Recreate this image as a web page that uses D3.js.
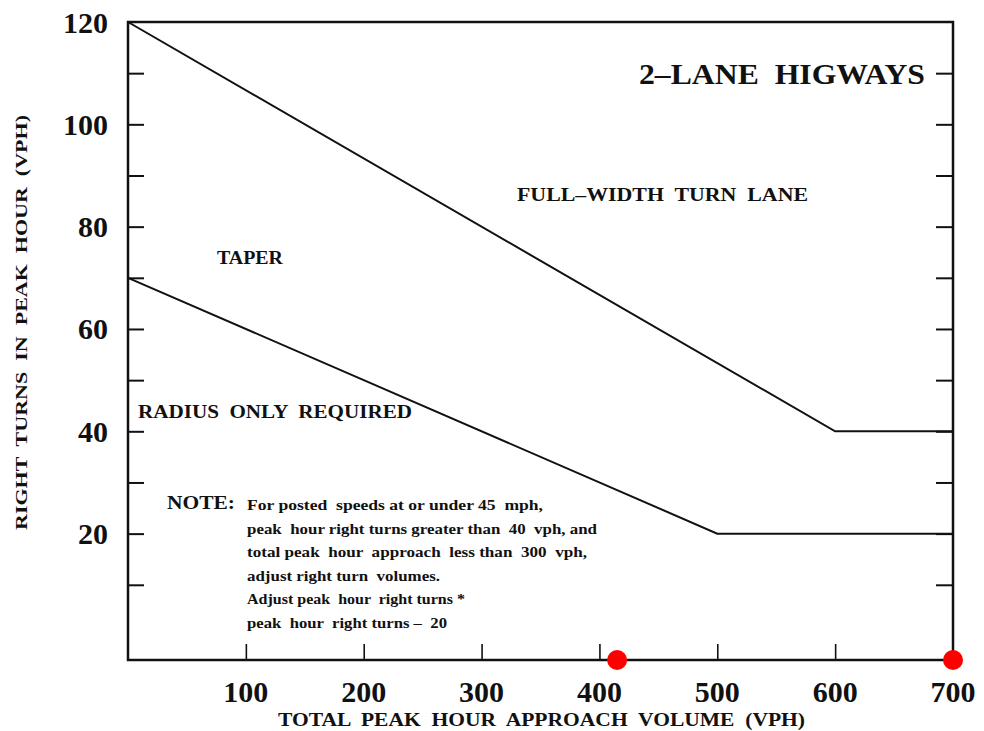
<!DOCTYPE html>
<html><head><meta charset="utf-8">
<script src="https://cdn.jsdelivr.net/npm/d3@7"></script>
<style>body{margin:0;background:#fff}svg{display:block}text{font-family:"Liberation Serif","DejaVu Serif",serif;font-weight:bold;fill:#111;white-space:pre}</style>
</head><body>
<svg id="c" width="984" height="731"></svg>
<script>
// ---- data ----
const xTickValues = [100, 200, 300, 400, 500, 600, 700];
const yTickValues = [20, 40, 60, 80, 100, 120];
const yMinorTicks = [10, 20, 30, 40, 50, 60, 70, 80, 90, 100, 110];
const fullWidthX = [0, 600, 700];
const fullWidthY = [120, 40, 40];
const taperX = [0, 500, 700];
const taperY = [70, 20, 20];
const markerX = [415, 700];
const noteLines = [
  "For posted  speeds at or under 45  mph,",
  "peak  hour right turns greater than  40  vph, and",
  "total peak  hour  approach  less than  300  vph,",
  "adjust right turn  volumes.",
  "Adjust peak  hour  right turns *",
  "peak  hour  right turns \u2013  20"
];
const noteWidths = [296, 350, 340, 193, 218, 200];

const svg = d3.select("#c");
const yMin = -4.7;
const x = d3.scaleLinear().domain([0, 700]).range([128, 953]);
const y = d3.scaleLinear().domain([yMin, 120]).range([660, 22]);
const ink = "#111";

// frame
svg.append("rect").attr("x", x(0)).attr("y", y(120)).attr("width", x(700) - x(0)).attr("height", y(yMin) - y(120))
  .attr("fill", "none").attr("stroke", ink).attr("stroke-width", 2.5);

// left ticks (inward)
const gl = svg.append("g").attr("transform", `translate(${x(0)},0)`)
  .call(d3.axisRight(y).tickValues(yMinorTicks).tickSize(16).tickFormat(""));
gl.select(".domain").remove();
gl.selectAll("line").attr("stroke", ink).attr("stroke-width", 2);
// right ticks (inward)
const gr = svg.append("g").attr("transform", `translate(${x(700)},0)`)
  .call(d3.axisLeft(y).tickValues(yMinorTicks).tickSize(17).tickFormat(""));
gr.select(".domain").remove();
gr.selectAll("line").attr("stroke", ink).attr("stroke-width", 2);
// bottom ticks (inward)
const gb = svg.append("g").attr("transform", `translate(0,${y(yMin)})`)
  .call(d3.axisTop(x).tickValues(xTickValues.filter(v => v < 700)).tickSize(16).tickFormat(""));
gb.select(".domain").remove();
gb.selectAll("line").attr("stroke", ink).attr("stroke-width", 1.6);

// tick labels
svg.append("g").selectAll("text").data(yTickValues).join("text")
  .attr("x", 108).attr("y", d => y(d)).attr("dy", "0.35em").attr("text-anchor", "end")
  .style("font-size", "30px").text(d => d);
svg.append("g").selectAll("text").data(xTickValues).join("text")
  .attr("x", d => x(d)).attr("y", 702).attr("text-anchor", "middle")
  .style("font-size", "30px").text(d => d);

// axis titles
svg.append("text").attr("x", 278).attr("y", 726).attr("textLength", 527).attr("lengthAdjust", "spacingAndGlyphs")
  .style("font-size", "19px").text("TOTAL  PEAK  HOUR  APPROACH  VOLUME  (VPH)");
svg.append("text").attr("transform", "translate(27,530) rotate(-90)").attr("textLength", 415).attr("lengthAdjust", "spacingAndGlyphs")
  .style("font-size", "17px").text("RIGHT  TURNS  IN  PEAK  HOUR  (VPH)");

// lines
const line = d3.line().x(d => x(d[0])).y(d => y(d[1]));
svg.append("path").datum(d3.zip(fullWidthX, fullWidthY)).attr("d", line)
  .attr("fill", "none").attr("stroke", ink).attr("stroke-width", 2);
svg.append("path").datum(d3.zip(taperX, taperY)).attr("d", line)
  .attr("fill", "none").attr("stroke", ink).attr("stroke-width", 2);

// title and region labels
svg.append("text").attr("x", 639).attr("y", 84).attr("textLength", 286).attr("lengthAdjust", "spacingAndGlyphs")
  .style("font-size", "30px").text("2\u2013LANE  HIGWAYS");
svg.append("text").attr("x", 517).attr("y", 201).attr("textLength", 291).attr("lengthAdjust", "spacingAndGlyphs")
  .style("font-size", "19px").text("FULL\u2013WIDTH  TURN  LANE");
svg.append("text").attr("x", 217).attr("y", 264).attr("textLength", 66).attr("lengthAdjust", "spacingAndGlyphs")
  .style("font-size", "19px").text("TAPER");
svg.append("text").attr("x", 138).attr("y", 418).attr("textLength", 274).attr("lengthAdjust", "spacingAndGlyphs")
  .style("font-size", "19px").text("RADIUS  ONLY  REQUIRED");
svg.append("text").attr("x", 167).attr("y", 509).attr("textLength", 68).attr("lengthAdjust", "spacingAndGlyphs")
  .style("font-size", "19px").text("NOTE:");
svg.append("g").selectAll("text").data(noteLines).join("text")
  .attr("x", 247).attr("y", (d, i) => 510 + i * 23.6)
  .attr("textLength", (d, i) => noteWidths[i]).attr("lengthAdjust", "spacingAndGlyphs")
  .style("font-size", "15px").text(d => d);

// red markers
svg.append("g").selectAll("circle").data(markerX).join("circle")
  .attr("cx", d => x(d)).attr("cy", y(yMin)).attr("r", 10).attr("fill", "#f00");
</script>
</body></html>
